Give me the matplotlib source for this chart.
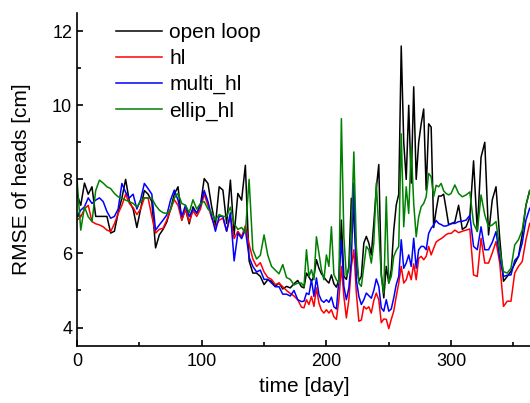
import numpy as np
import matplotlib
matplotlib.use("Agg")
import matplotlib.pyplot as plt
from matplotlib.ticker import MultipleLocator

plt.rcParams['font.family'] = ['Liberation Sans', 'DejaVu Sans']

# sample days (3-day steps, 2-day steps through the noisy middle part)
day = list(range(0, 181, 3)) + list(range(182, 301, 2)) + list(range(303, 364, 3))

open_loop = [
    7.6, 7.3, 7.9, 7.6, 7.8, 7.0, 7.0, 7.0, 7.0, 6.55, 6.6, 7.1, 7.5, 8.0, 7.4, 7.2,
    6.7, 7.2, 7.7, 7.6, 7.4, 6.15, 6.5, 6.65, 6.85, 7.2, 7.6, 7.8, 6.9, 7.2, 6.8,
    7.26, 7.08, 7.3, 8.02, 7.89, 7.26, 6.77, 7.8, 7.71, 6.81, 7.98, 6.5, 7.62, 7.44, 8.38,
    5.8, 5.47, 5.47, 5.38, 5.16, 5.29, 5.25, 5.11, 5.2, 5.04, 5.11, 5.07, 5.18, 5.27, 5.1,
    5.07, 5.47, 5.36, 5.25, 5.38, 5.83, 5.6, 5.45, 5.36, 5.27,
    5.2, 5.42, 5.18, 5.09, 5.29, 6.9, 5.38, 5.3, 5.65, 7.49,
    6.9, 5.83, 5.25, 5.38, 6.28, 6.46, 6.28, 5.96, 6.81, 7.75,
    8.4, 5.47, 4.8, 5.65, 5.2, 5.56, 6.63, 7.31, 7.6, 11.6,
    9.0, 8.0, 10.0, 7.9, 10.5, 8.0, 9.0, 9.5, 9.9, 7.71,
    9.5, 9.41, 6.7, 7.17, 7.55, 7.55, 7.6, 7.2, 6.78, 6.8,
    6.85, 7.3, 6.65, 6.72, 6.98, 8.5, 6.6, 8.6, 9.0, 6.5, 7.45, 7.8, 6.4, 5.25,
    5.38, 5.52, 5.72, 5.92, 6.5, 7.3, 7.7,
]

hl = [
    6.9, 6.99, 7.2, 7.3, 6.86, 6.8, 6.77, 6.72, 6.63, 6.59, 6.8, 7.08, 7.3, 7.6, 7.35, 7.24,
    7.05, 7.2, 7.5, 7.5, 7.0, 6.55, 6.65, 6.68, 6.9, 7.2, 7.45, 7.3, 6.9, 7.2, 6.85,
    7.15, 7.0, 7.2, 7.6, 7.3, 6.95, 6.72, 6.9, 6.95, 6.6, 7.0, 6.4, 6.6, 6.45, 6.75,
    6.25, 5.85, 5.65, 5.75, 5.5, 5.35, 5.3, 5.16, 5.2, 5.1, 5.0, 4.92, 4.85, 4.75, 4.55,
    4.53, 4.75, 4.62, 4.84, 4.57, 5.07, 4.66, 4.47, 4.39, 4.48,
    4.39, 4.48, 4.29, 4.22, 4.75, 5.65, 4.84, 4.26, 4.75, 5.65,
    6.1, 4.93, 4.17, 4.2, 4.57, 4.5, 4.56, 4.39, 4.73, 4.93,
    4.75, 4.13, 4.23, 4.22, 3.97, 4.22, 4.44, 4.84, 5.2, 5.65,
    5.2, 5.29, 5.52, 5.29, 5.72, 5.29, 5.87, 5.92, 5.83, 5.92,
    6.19, 5.96, 6.14, 6.31, 6.36, 6.4, 6.45, 6.51, 6.54, 6.54,
    6.63, 6.56, 6.6, 6.63, 6.66, 5.42, 5.38, 6.41, 5.74, 5.74, 6.01, 6.32, 5.74, 4.57,
    4.71, 4.71, 5.47, 5.65, 5.78, 6.37, 6.81,
]

multi_hl = [
    7.0, 7.17, 7.26, 7.5, 7.35, 7.44, 7.5, 7.4, 7.13, 6.95, 7.0, 7.2, 7.89, 7.65, 7.5, 7.6,
    7.2, 7.45, 7.89, 7.75, 7.6, 6.63, 6.77, 6.9, 7.04, 7.44, 7.71, 7.44, 7.0, 7.3, 7.0,
    7.2, 7.1, 7.3, 7.7, 7.4, 7.0, 6.6, 7.0, 7.0, 6.6, 7.1, 5.8, 6.55, 6.4, 6.65,
    5.9, 5.65, 5.5, 5.55, 5.3, 5.3, 5.2, 5.1, 5.1, 4.9, 4.9, 4.85, 5.0, 4.75, 4.7,
    4.71, 4.93, 4.89, 5.29, 4.84, 5.34, 4.89, 4.73, 4.68, 4.75,
    4.68, 4.82, 4.56, 4.5, 5.29, 6.37, 5.11, 4.75, 5.07, 5.83,
    7.9, 5.29, 4.84, 4.62, 4.75, 4.93, 4.86, 4.79, 5.0, 5.31,
    5.11, 4.53, 4.44, 4.75, 4.44, 4.5, 4.8, 5.16, 5.38, 6.37,
    5.6, 5.74, 5.96, 5.65, 6.41, 5.6, 6.1, 6.19, 6.19, 6.1,
    6.54, 6.68, 6.77, 6.89, 6.81, 6.78, 6.74, 6.74, 6.77, 6.81,
    6.81, 6.86, 6.87, 6.9, 7.03, 6.19, 6.1, 6.72, 6.1, 6.1, 6.3, 6.59, 5.87, 5.38,
    5.41, 5.42, 5.81, 5.92, 6.28, 6.9, 7.22,
]

ellip_hl = [
    8.0, 6.63, 7.26, 6.99, 6.86, 7.7, 7.98, 7.9, 7.8, 7.75, 7.62, 7.53, 7.49, 7.44, 7.4, 7.35,
    7.26, 7.4, 7.5, 7.5, 7.49, 7.3, 7.17, 7.1, 7.08, 7.17, 7.5, 7.62, 7.35, 7.3, 7.1,
    7.45, 7.2, 7.35, 7.4, 7.2, 7.1, 6.9, 7.05, 7.0, 7.0, 7.25, 6.8, 6.65, 6.7, 6.55,
    8.0, 6.1, 5.85, 5.95, 6.5, 5.95, 5.65, 5.55, 5.45, 5.7, 5.35, 5.3, 5.15, 5.2, 5.2,
    5.1, 6.1, 5.38, 5.56, 5.29, 6.45, 6.0, 5.56, 5.29, 5.96,
    5.65, 6.72, 5.43, 5.29, 5.2, 9.64, 6.45, 5.38, 5.56, 6.63,
    8.74, 6.19, 5.2, 5.11, 5.65, 6.19, 6.1, 5.74, 6.28, 7.9,
    6.63, 5.38, 4.93, 7.53, 5.2, 5.38, 5.92, 6.08, 6.19, 9.23,
    6.72, 7.8, 7.08, 8.87, 7.35, 6.45, 6.99, 7.26, 7.35, 7.53,
    8.16, 8.07, 7.53, 7.84, 7.8, 7.89, 7.69, 7.62, 7.58, 7.62,
    7.85, 7.62, 7.53, 7.58, 7.66, 6.81, 6.59, 7.58, 7.04, 6.72, 6.77, 6.86, 6.1, 5.51,
    5.47, 5.6, 6.23, 6.37, 6.63, 7.3, 7.69,
]

fig = plt.figure(figsize=(5.3, 4.03), dpi=100)
ax = fig.add_axes([0.1453, 0.1414, 0.8588, 0.827])

ax.plot(day, open_loop, color='black', lw=1.1, label='open loop')
ax.plot(day, hl, color='red', lw=1.1, label='hl')
ax.plot(day, multi_hl, color='blue', lw=1.1, label='multi_hl')
ax.plot(day, ellip_hl, color='green', lw=1.1, label='ellip_hl')

ax.set_xlim(0, 365)
ax.set_ylim(3.5, 12.5)
ax.xaxis.set_major_locator(MultipleLocator(100))
ax.xaxis.set_minor_locator(MultipleLocator(50))
ax.yaxis.set_major_locator(MultipleLocator(2))
ax.yaxis.set_minor_locator(MultipleLocator(1))
ax.tick_params(which='both', direction='in', width=1.2, labelsize=13)
ax.tick_params(which='major', length=4)
ax.tick_params(which='minor', length=3)
ax.tick_params(axis='x', pad=5)
ax.spines['top'].set_visible(False)
ax.spines['right'].set_visible(False)
ax.spines['left'].set_linewidth(1.2)
ax.spines['bottom'].set_linewidth(1.2)

ax.set_xlabel('time [day]', fontsize=15, labelpad=5)
ax.set_ylabel('RMSE of heads [cm]', fontsize=15)
ax.yaxis.set_label_coords(-0.1, 0.5)

ax.legend(loc='upper left', bbox_to_anchor=(0.086, 0.968), frameon=False,
          borderaxespad=0, borderpad=0, fontsize=15, handlelength=2.2,
          handletextpad=0.35, labelspacing=0.33)

fig.savefig('out.png', dpi=100)
